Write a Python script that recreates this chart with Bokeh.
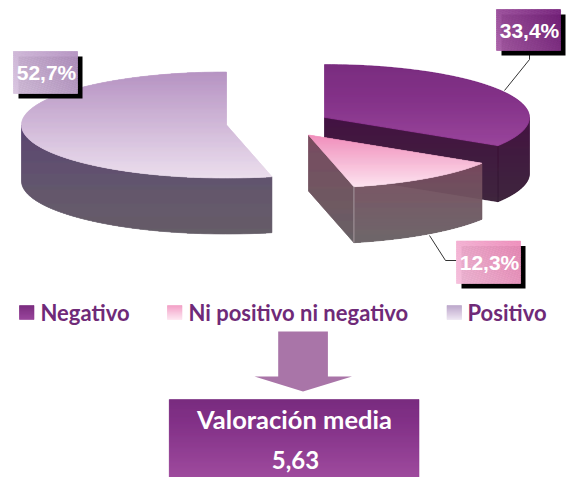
import math
from bokeh.plotting import figure
from bokeh.models import Range1d
from bokeh.core.properties import value
from bokeh.embed import file_html
from bokeh.resources import INLINE

categories = ["Negativo", "Ni positivo ni negativo", "Positivo"]
values = [33.4, 12.3, 52.7]
summary_title = "Valoración media"
summary_value = "5,63"

RX, RY, DEPTH = 205, 53, 56
CENTERS = [(324, 117), (308, 134.5), (226, 124.5)]


def rgb(h):
    return [int(h[i:i + 2], 16) for i in (1, 3, 5)]


def mix(stops, t):
    t = min(1, max(0, t))
    for (t0, c0), (t1, c1) in zip(stops, stops[1:]):
        if t <= t1:
            k = (t - t0) / (t1 - t0) if t1 > t0 else 0
            a, b = rgb(c0), rgb(c1)
            return "#%02x%02x%02x" % tuple(round(a[i] + (b[i] - a[i]) * k) for i in range(3))
    return stops[-1][1]


def clip(poly, f, lo, hi):
    def half(pts, keep, cut):
        out = []
        for i, p in enumerate(pts):
            q = pts[(i + 1) % len(pts)]
            fp, fq = f(p), f(q)
            if keep(fp):
                out.append(p)
            if keep(fp) != keep(fq):
                k = (cut - fp) / (fq - fp)
                out.append((p[0] + (q[0] - p[0]) * k, p[1] + (q[1] - p[1]) * k))
        return out
    pts = half(poly, lambda v: v >= lo, lo)
    return half(pts, lambda v: v <= hi, hi) if pts else []


XS, YS, CS = [], [], []


def grad(poly, start, end, stops, step=1.0):
    dx, dy = end[0] - start[0], end[1] - start[1]
    L = math.hypot(dx, dy)
    f = lambda p: ((p[0] - start[0]) * dx + (p[1] - start[1]) * dy) / L
    vals = [f(p) for p in poly]
    v = min(vals)
    while v < max(vals):
        part = clip(poly, f, v, v + step)
        if len(part) > 2:
            XS.append([p[0] for p in part])
            YS.append([p[1] for p in part])
            CS.append(mix(stops, (v + step / 2) / L))
        v += step


def pt(c, a, dy=0):
    r = math.radians(a)
    return (c[0] + RX * math.sin(r), c[1] - RY * math.cos(r) + dy)


def arc(c, a, b, dy=0):
    n = max(2, int(abs(b - a)))
    return [pt(c, a + (b - a) * i / n, dy) for i in range(n + 1)]


def wall(c, a, b):
    return arc(c, a, b) + arc(c, b, a, DEPTH)


def vgrad(poly, y0, y1, stops):
    grad(poly, (0, y0), (0, y1), stops)


total = sum(values)
a1 = values[0] / total * 360
a2 = a1 + values[1] / total * 360
cN, cI, cP = CENTERS

# Positivo
vgrad(wall(cP, a2, 270), 130, 232, [(0, "#5c4672"), (0.5, "#63566e"), (1, "#665e69")])
vgrad([cP] + arc(cP, a2, 360), 71, 178, [(0, "#b693c3"), (1, "#ecdfee")])
# Negativo
vgrad(wall(cN, 90, a1), 115, 203, [(0, "#3b083a"), (1, "#371d35")])
cutN = [cN, pt(cN, a1), pt(cN, a1, DEPTH), (cN[0], cN[1] + DEPTH)]
vgrad(cutN, 117, 203, [(0, "#3b083a"), (1, "#371d35")])
vgrad([cN] + arc(cN, 0, a1), 63, 146, [(0, "#74247a"), (0.45, "#7f2a84"), (1, "#953d97")])
# Ni positivo ni negativo
vgrad(wall(cI, a1, a2), 163, 242, [(0, "#7a4c60"), (1, "#696265")])
cutI = [cI, pt(cI, a2), pt(cI, a2, DEPTH), (cI[0], cI[1] + DEPTH)]
vgrad(cutI, 135, 242, [(0, "#7a4c60"), (1, "#696265")])
vgrad([cI] + arc(cI, a1, a2), 135, 187, [(0, "#f18fbc"), (1, "#fde4f0")])

p = figure(width=570, height=477, x_range=Range1d(0, 570), y_range=Range1d(477, 0),
           output_backend="svg", toolbar_location=None, min_border=0,
           outline_line_color=None)
p.axis.visible = False
p.grid.visible = False

# Legend squares
for x0, stops in [(19, [(0, "#74247a"), (1, "#953d97")]),
                  (167, [(0, "#f29ac3"), (1, "#fde4f0")]),
                  (446.5, [(0, "#b8a2c8"), (1, "#ece2f0")])]:
    vgrad([(x0, 305), (x0 + 14.5, 305), (x0 + 14.5, 319), (x0, 319)], 305, 319, stops)

# Arrow
p_arrow = [(277.7, 331), (327.4, 331), (327.4, 376), (351.5, 376), (302.5, 391), (254, 376), (277.7, 376)]
# Summary box
vgrad([(168.8, 399), (418.5, 399), (418.5, 477), (168.8, 477)], 399, 477,
      [(0, "#73237a"), (0.35, "#7f2a84"), (1, "#9a4399")])

p.patches(XS, YS, fill_color=CS, line_color=CS, line_width=0.6, fill_alpha=1.0, line_alpha=1.0)
p.patch([q[0] for q in p_arrow], [q[1] for q in p_arrow], fill_color="#a975a8", fill_alpha=1.0, line_color=None)

# Light edges on the pink slice
edge = [pt(cI, a2), pt(cI, a2, DEPTH)]
p.line([q[0] for q in edge], [q[1] for q in edge], line_color="#a99ba2", line_width=1)

# Leader lines
p.line([529, 529, 504], [50, 59, 90], line_color="#333333", line_width=1)
p.line([429, 445, 456], [235, 260, 260], line_color="#333333", line_width=1)

# Data labels
label_boxes = [(496, 9, 560, 50, "#a85ea6", "#74207a"),
               (456, 240.5, 520, 283, "#f5bedb", "#ee8dbb"),
               (13, 51, 77, 93, "#d8c4df", "#b492c1")]
for x0, y0, x1, y1, *_ in label_boxes:
    p.quad(left=x0 + 5, right=x1 + 5, top=y0 + 5, bottom=y1 + 5, fill_color="#000000", fill_alpha=1.0, line_color=None)
XS, YS, CS = [], [], []
for x0, y0, x1, y1, c0, c1 in label_boxes:
    grad([(x0, y0), (x1, y0), (x1, y1), (x0, y1)], (x0, y1), (x1, y0), [(0, c0), (1, c1)])
p.patches(XS, YS, fill_color=CS, line_color=CS, line_width=0.6, fill_alpha=1.0, line_alpha=1.0)

for (x0, y0, x1, y1, *_), v in zip(label_boxes, values):
    p.text([(x0 + x1) / 2 + 1], [(y0 + y1) / 2], text=[f"{v:.1f}%".replace(".", ",")],
           text_font=value("Liberation Sans"), text_font_style="bold", text_font_size="21px",
           text_color="#ffffff", text_align="center", text_baseline="middle")

# Legend text
for x0, name in zip([40, 188, 467], categories):
    p.text([x0], [312], text=[name], text_font=value("Lato"), text_font_style="bold",
           text_font_size="22px", text_color="#6f2a78", text_align="left", text_baseline="middle")

p.text([294], [418], text=[summary_title], text_font=value("Lato"), text_font_style="bold",
       text_font_size="25.5px", text_color="#ffffff", text_align="center", text_baseline="middle")
p.text([295], [459], text=[summary_value], text_font=value("Lato"), text_font_style="bold",
       text_font_size="24px", text_color="#ffffff", text_align="center", text_baseline="middle")

open("out.html", "w").write(file_html(p, INLINE))
